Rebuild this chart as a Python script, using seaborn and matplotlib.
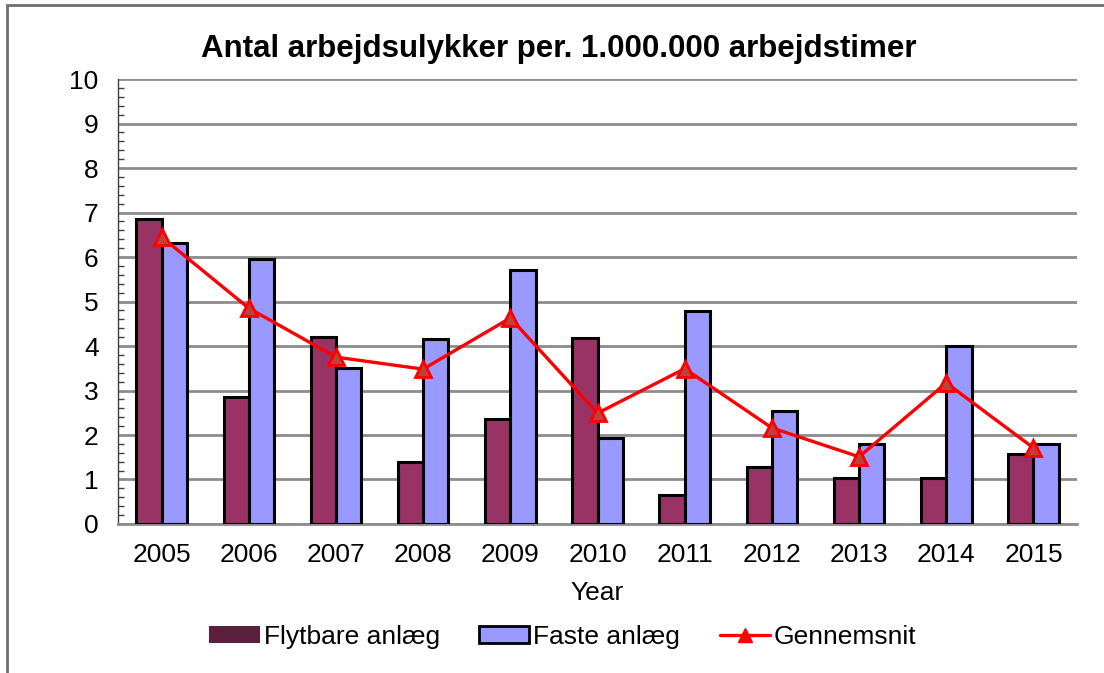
import numpy as np
import pandas as pd
import seaborn as sns
import matplotlib.pyplot as plt
from matplotlib.patches import Patch, Rectangle
from matplotlib.lines import Line2D
from matplotlib.ticker import MultipleLocator

# data
years = ['2005', '2006', '2007', '2008', '2009', '2010', '2011', '2012', '2013', '2014', '2015']
flytbare = [6.85, 2.85, 4.20, 1.39, 2.36, 4.18, 0.65, 1.28, 1.03, 1.04, 1.58]
faste = [6.32, 5.96, 3.50, 4.16, 5.71, 1.93, 4.79, 2.54, 1.80, 4.00, 1.80]
gennemsnit = [6.45, 4.85, 3.75, 3.48, 4.63, 2.49, 3.49, 2.16, 1.51, 3.17, 1.71]

series = ['Flytbare anlæg', 'Faste anlæg']
colors = ['#993366', '#9999FF']

df = pd.DataFrame({
    'year': years * 2,
    'value': flytbare + faste,
    'serie': [series[0]] * len(years) + [series[1]] * len(years),
})

sns.set_style('white')
plt.rcParams['font.family'] = ['Liberation Sans', 'DejaVu Sans']
plt.rcParams['text.color'] = 'black'
plt.rcParams['axes.labelcolor'] = 'black'
plt.rcParams['xtick.labelcolor'] = 'black'
plt.rcParams['ytick.labelcolor'] = 'black'

fig = plt.figure(figsize=(11.04, 6.73), dpi=100)
ax = fig.add_axes([0.1069, 0.2214, 0.8687, 0.6612])

sns.barplot(data=df, x='year', y='value', hue='serie', palette=colors,
            width=0.58, gap=0, edgecolor='black', linewidth=2.2,
            saturation=1, legend=False, ax=ax, zorder=3)

sns.pointplot(x=years, y=gennemsnit, color='#ff0000', markers='^',
              linestyles='-', ax=ax, zorder=5,
              markersize=12, markerfacecolor='#c0403a', markeredgecolor='#ff0000',
              markeredgewidth=2, linewidth=2.4)

ax.set_xlim(-0.5, 10.5)
ax.set_ylim(0, 10)
ax.yaxis.set_major_locator(MultipleLocator(1))
ax.yaxis.set_minor_locator(MultipleLocator(0.2))
ax.grid(axis='y', which='major', color='#8c8c8c', linewidth=2, zorder=0)
ax.set_axisbelow(True)

for s in ['top', 'right']:
    ax.spines[s].set_visible(False)
ax.spines['left'].set_color('#404040')
ax.spines['left'].set_linewidth(1)
ax.spines['bottom'].set_color('#8c8c8c')
ax.spines['bottom'].set_linewidth(2)

ax.tick_params(axis='y', which='major', direction='out', length=8, width=2,
               color='#606060', labelsize=19, pad=6)
ax.tick_params(axis='y', which='minor', direction='in', length=4, width=1,
               color='#404040', left=True)
ax.tick_params(axis='x', length=0, labelsize=19, pad=14)

ax.set_xlabel('Year', fontsize=19, labelpad=10)
ax.set_ylabel('')
ax.set_title('Antal arbejdsulykker per. 1.000.000 arbejdstimer',
             fontsize=22.5, fontweight='bold', pad=16, x=0.46)

handles = [
    Patch(facecolor='#5c1f3d', edgecolor='none'),
    Patch(facecolor='#9999FF', edgecolor='black', linewidth=2),
    Line2D([0], [0], color='#ff0000', linewidth=2.4, marker='^',
           markersize=10, markerfacecolor='#ff0000'),
]
fig.legend(handles, ['Flytbare anlæg', 'Faste anlæg', 'Gennemsnit'],
           loc='center', bbox_to_anchor=(563 / 1104, 1 - 637 / 673), ncol=3,
           frameon=False, fontsize=19, handlelength=1.9, handleheight=0.6,
           handletextpad=0.15, columnspacing=1.5)

# outer frame like the original chart area
fig.patches.append(Rectangle((7 / 1104, -0.1), 1.2, 1 - 5 / 673 + 0.1,
                             transform=fig.transFigure, fill=False,
                             edgecolor='#707070', linewidth=2))

plt.savefig('out.png', dpi=100)
plt.close()
